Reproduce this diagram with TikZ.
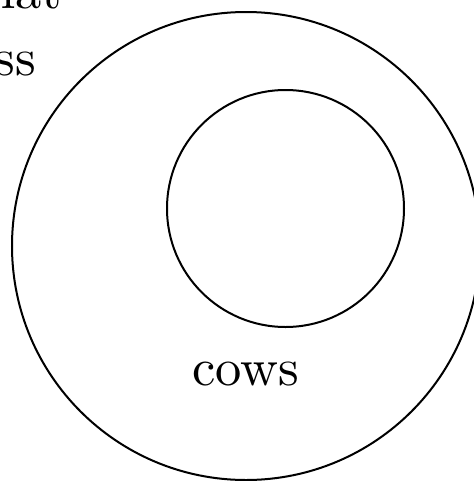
\documentclass[tikz,border=0pt]{standalone}
\usetikzlibrary{positioning}
\begin{document}
\begin{tikzpicture}[
x=0.2pt, y=-0.2pt, % pixel-like units, y pointing down
every node/.style={font=\fontsize{10.5}{13}\selectfont, inner sep=0pt},
ring/.style={draw=black, line width=0.4pt},
tag/.style={anchor=base east}
]
\useasboundingbox (0,0) rectangle (474,481);
\clip (0,0) rectangle (474,481);

% --- Centres of the two sets ---
\coordinate (outer) at (246,246);
\coordinate (inner) at (285.5,208.5);

% Outer set and the set inside it
\draw[ring] (outer) circle[radius=234];
\draw[ring] (inner) circle[radius=118.5];

% Labels
\node[anchor=base] (cows) at (246,385) {cows};
\node[tag] (that) at (63,8) {that};
\node[tag] (grass) at (37,75) {grass};

\end{tikzpicture}
\end{document}
